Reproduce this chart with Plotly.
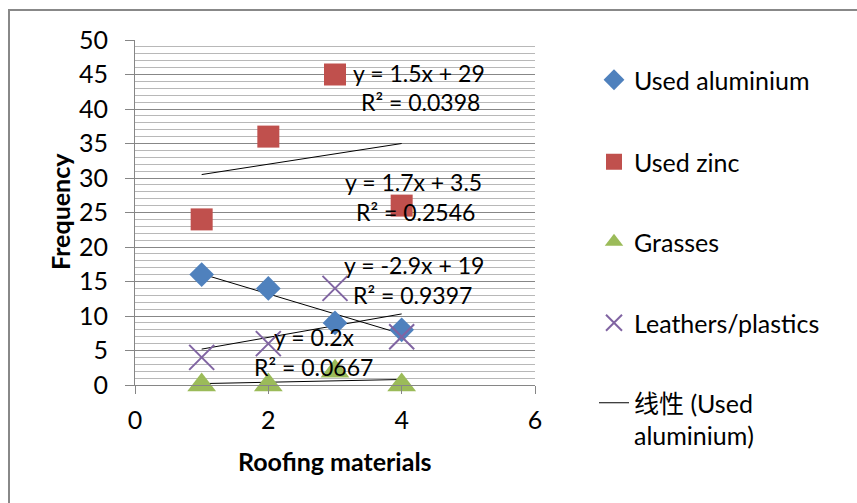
import numpy as np
import plotly.graph_objects as go

# Roofing material index (x) and observed frequencies per material type
x_vals = [1, 2, 3, 4]
used_aluminium = [16, 14, 9, 8]
used_zinc = [24, 36, 45, 26]
grasses = [0, 0, 2, 0]
leathers_plastics = [4, 6, 14, 7]

series_names = ["Used aluminium", "Used zinc", "Grasses", "Leathers/plastics"]
trend_legend_name = "线性 (Used<br>aluminium)"

FONT = "Lato, 'Noto Sans CJK SC', sans-serif"
W, H = 857, 503
L, R, T, B = 135, 322, 40, 118
PW, PH = W - L - R, H - T - B


def px_x(p):
    return (p - L) / PW


def px_y(p):
    return (H - B - p) / PH


def fmt_num(v):
    v = round(float(v), 4)
    return f"{v:g}"


def trend(xs, ys):
    m, c = np.polyfit(xs, ys, 1)
    yhat = m * np.array(xs) + c
    ss_res = np.sum((np.array(ys) - yhat) ** 2)
    ss_tot = np.sum((np.array(ys) - np.mean(ys)) ** 2)
    r2 = 1 - ss_res / ss_tot
    eq = f"y = {fmt_num(m)}x"
    if abs(c) > 1e-9:
        eq += f" + {fmt_num(c)}" if c > 0 else f" - {fmt_num(-c)}"
    return m, c, eq, f"R² = {r2:.4f}"


fig = go.Figure()

styles = [
    dict(symbol="diamond", size=19, color="#4F81BD"),
    dict(symbol="square", size=22, color="#C0504D"),
    dict(symbol="triangle-up", size=25, color="#9BBB59"),
    dict(symbol="x-thin-open", size=25, color="#8064A2", line=dict(width=2, color="#8064A2")),
]
data = [used_aluminium, used_zinc, grasses, leathers_plastics]

# Linear trendlines (drawn first so markers sit on top)
fits = []
for i, ys in enumerate(data):
    m, c, eq, r2 = trend(x_vals, ys)
    fits.append((eq, r2))
    xs_line = [min(x_vals), max(x_vals)]
    fig.add_trace(go.Scatter(
        x=xs_line, y=[m * v + c for v in xs_line], mode="lines",
        line=dict(color="black", width=1),
        name=trend_legend_name if i == 0 else "trend",
        showlegend=(i == 0),
        legend="legend5" if i == 0 else None,
        cliponaxis=False, hoverinfo="skip",
    ))

legend_ids = ["legend", "legend2", "legend3", "legend4"]
for i, ys in enumerate(data):
    st = dict(styles[i])
    mk = dict(symbol=st["symbol"], size=st["size"], color=st["color"])
    if "line" in st:
        mk["line"] = st["line"]
    fig.add_trace(go.Scatter(
        x=x_vals, y=ys, mode="markers", name=series_names[i],
        marker=mk, legend=legend_ids[i], cliponaxis=False,
    ))

# Equation / R² labels, one pair per series
label_pos = [
    ((414, 265), (412, 295)),   # aluminium
    ((419, 73), (420, 102)),    # zinc
    ((314, 337), (313, 367)),   # grasses
    ((413, 182), (415, 212)),   # leathers/plastics
]
annotations = []
for (eq, r2), ((ex, ey), (rx, ry)) in zip(fits, label_pos):
    for txt, (ax, ay) in ((eq, (ex, ey)), (r2, (rx, ry))):
        annotations.append(dict(
            text=txt, x=px_x(ax), y=px_y(ay), xref="paper", yref="paper",
            xanchor="center", yanchor="middle", showarrow=False,
            font=dict(family=FONT, size=23, color="black"),
        ))

# Axis titles
annotations.append(dict(
    text="<b>Roofing materials</b>", x=px_x(335), y=px_y(461), xref="paper", yref="paper",
    showarrow=False, xanchor="center", yanchor="middle",
    font=dict(family=FONT, size=25, color="black"),
))
annotations.append(dict(
    text="<b>Frequency</b>", x=px_x(60), y=px_y(212), xref="paper", yref="paper",
    showarrow=False, xanchor="center", yanchor="middle", textangle=-90,
    font=dict(family=FONT, size=25, color="black"),
))

legend_y = [80, 162, 242, 323]
legend_cfg = {}
for lid, ly in zip(legend_ids, legend_y):
    legend_cfg[lid] = dict(
        x=px_x(594), y=px_y(ly), xanchor="left", yanchor="middle",
        bgcolor="rgba(0,0,0,0)", font=dict(family=FONT, size=25, color="black"),
        itemsizing="trace",
    )
legend_cfg["legend5"] = dict(
    x=px_x(594), y=px_y(380), xanchor="left", yanchor="top", valign="top",
    bgcolor="rgba(0,0,0,0)", font=dict(family=FONT, size=25, color="black"),
)

fig.update_layout(
    width=W, height=H,
    margin=dict(l=L, r=R, t=T, b=B),
    paper_bgcolor="white", plot_bgcolor="white",
    annotations=annotations,
    shapes=[dict(
        type="rect", xref="paper", yref="paper",
        x0=px_x(9), x1=px_x(W + 40), y0=px_y(H + 40), y1=px_y(10),
        line=dict(color="#888888", width=2), fillcolor="rgba(0,0,0,0)", layer="below",
    )],
    **legend_cfg,
)

fig.update_xaxes(
    range=[0, 6], dtick=2, tick0=0, showgrid=False, zeroline=False,
    showline=True, linecolor="#868686", linewidth=1,
    ticks="outside", ticklen=8, tickcolor="#868686",
    tickfont=dict(family=FONT, size=25, color="black"), ticklabelstandoff=5,
)
fig.update_yaxes(
    range=[0, 50], dtick=5, tick0=0, zeroline=False,
    showgrid=True, gridcolor="#878787", gridwidth=1,
    minor=dict(dtick=1, showgrid=True, gridcolor="#b8b8b8", gridwidth=1),
    showline=True, linecolor="#868686", linewidth=1,
    ticks="outside", ticklen=9, tickcolor="#868686",
    tickfont=dict(family=FONT, size=25, color="black"), ticklabelstandoff=12,
)

fig.write_html("out.html")
